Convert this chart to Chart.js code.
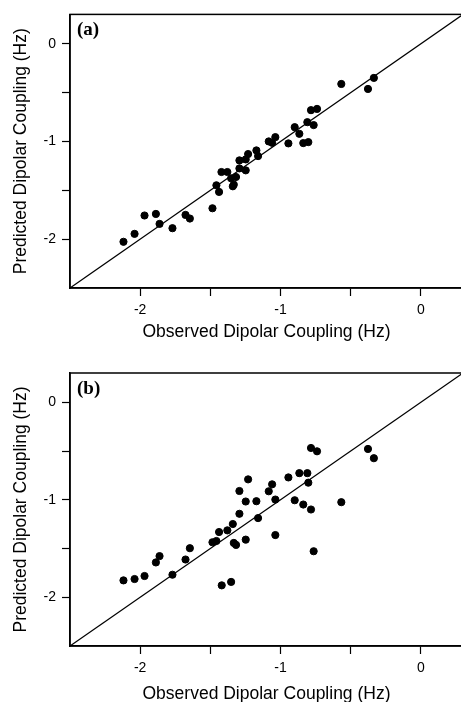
<!DOCTYPE html>
<html>
<head>
<meta charset="utf-8">
<script src="https://cdn.jsdelivr.net/npm/chart.js@4.4.1/dist/chart.umd.min.js"></script>
<style>
    html, body { margin: 0; padding: 0; background: #fff; overflow: hidden; }
    body { width: 461px; height: 702px; position: relative; }
    .painel { position: absolute; left: 0; width: 470px; }
    #painelA { top: 0; height: 343px; }
    #painelB { top: 350px; height: 355px; }
</style>
</head>
<body>
<div class="painel" id="painelA"><canvas id="chartA"></canvas></div>
<div class="painel" id="painelB"><canvas id="chartB"></canvas></div>
<script>
// Valores observados (eixo x) e previstos (eixo y) de cada painel
const observadoA = [-2.119, -2.04, -1.969, -1.888, -1.862, -1.77, -1.677, -1.646, -1.485, -1.457,
    -1.438, -1.421, -1.379, -1.352, -1.34, -1.333, -1.317, -1.293, -1.293, -1.248,
    -1.248, -1.231, -1.172, -1.16, -1.084, -1.06, -1.037, -0.944, -0.899, -0.866,
    -0.838, -0.802, -0.809, -0.764, -0.783, -0.74, -0.567, -0.377, -0.335];
const previstoA = [-2.027, -1.946, -1.758, -1.742, -1.844, -1.888, -1.752, -1.789, -1.684, -1.449,
    -1.517, -1.313, -1.313, -1.378, -1.459, -1.442, -1.364, -1.194, -1.276, -1.296,
    -1.184, -1.129, -1.092, -1.15, -1.0, -1.014, -0.956, -1.02, -0.854, -0.922,
    -1.017, -1.007, -0.803, -0.833, -0.68, -0.667, -0.412, -0.463, -0.35];

const observadoB = [-2.119, -2.04, -1.969, -1.888, -1.862, -1.77, -1.677, -1.646, -1.485, -1.457,
    -1.438, -1.419, -1.379, -1.352, -1.34, -1.333, -1.317, -1.293, -1.293, -1.248,
    -1.248, -1.231, -1.172, -1.16, -1.084, -1.06, -1.037, -1.037, -0.944, -0.899,
    -0.866, -0.838, -0.802, -0.809, -0.783, -0.764, -0.783, -0.74, -0.567, -0.377, -0.335];
const previstoB = [-1.827, -1.813, -1.782, -1.643, -1.578, -1.769, -1.613, -1.497, -1.436, -1.423,
    -1.331, -1.878, -1.314, -1.843, -1.249, -1.443, -1.463, -0.91, -1.144, -1.018,
    -1.409, -0.791, -1.015, -1.188, -0.913, -0.842, -0.998, -1.362, -0.771, -1.005,
    -0.727, -1.049, -0.825, -0.727, -1.1, -1.528, -0.469, -0.503, -1.025, -0.479, -0.574];

// Limites dos eixos e marcas
const limites = [-2.5, 0.3];
const marcas = [-2, -1.5, -1, -0.5, 0];

const fonte = 'Arial, "Liberation Sans", sans-serif';

// Desenha a moldura e o rótulo do painel
const molduraPlugin = {
    id: 'moldura',
    afterDraw(chart, args, opts) {
        const { ctx, chartArea: a } = chart;
        ctx.save();
        ctx.strokeStyle = '#000';
        ctx.lineWidth = 1.5;
        ctx.strokeRect(a.left, a.top, a.right - a.left, a.bottom - a.top);
        ctx.fillStyle = '#000';
        ctx.font = 'bold 19px "Times New Roman", "Liberation Serif", serif';
        ctx.textBaseline = 'middle';
        ctx.fillText(opts.rotulo, a.left + 7, a.top + 16);
        ctx.restore();
    }
};

const criaGrafico = (id, xs, ys, rotulo, topo, alturaX) => {
    const pontos = xs.map((x, i) => ({ x: x, y: ys[i] }));
    const diagonal = limites.map(v => ({ x: v, y: v }));

    const eixo = (titulo, horizontal) => ({
        type: 'linear',
        min: limites[0],
        max: limites[1],
        afterBuildTicks: s => { s.ticks = marcas.map(v => ({ value: v })); },
        afterFit: s => {
            if (horizontal) s.height = alturaX;
            else s.width = 70;
        },
        grid: {
            drawOnChartArea: false,
            drawTicks: true,
            tickLength: 8,
            tickColor: '#000',
            tickWidth: 1.2
        },
        border: { display: true, color: '#000', width: 1.5 },
        ticks: {
            color: '#000',
            font: { family: fonte, size: 14 },
            padding: horizontal ? 6 : 6,
            maxRotation: 0,
            autoSkip: false,
            callback: v => Number.isInteger(v) ? String(v) : ''
        },
        title: {
            display: true,
            text: titulo,
            color: '#000',
            font: { family: fonte, size: 17.5 },
            padding: horizontal ? { top: 0, bottom: 0 } : { top: 11, bottom: 0 }
        }
    });

    new Chart(document.getElementById(id), {
        type: 'scatter',
        data: {
            datasets: [{
                data: pontos,
                backgroundColor: '#000',
                borderColor: '#000',
                pointRadius: 3.6,
                pointHoverRadius: 3.6
            }, {
                type: 'line',
                data: diagonal,
                borderColor: '#000',
                borderWidth: 1.2,
                pointRadius: 0,
                fill: false
            }]
        },
        options: {
            responsive: true,
            maintainAspectRatio: false,
            animation: false,
            layout: { padding: { top: topo, right: 7, left: 0, bottom: 0 } },
            plugins: {
                legend: { display: false },
                tooltip: { enabled: false },
                moldura: { rotulo: rotulo }
            },
            scales: {
                x: eixo('Observed Dipolar Coupling (Hz)', true),
                y: eixo('Predicted Dipolar Coupling (Hz)', false)
            }
        },
        plugins: [molduraPlugin]
    });
};

criaGrafico('chartA', observadoA, previstoA, '(a)', 14, 55);
criaGrafico('chartB', observadoB, previstoB, '(b)', 23, 59);
</script>
</body>
</html>
